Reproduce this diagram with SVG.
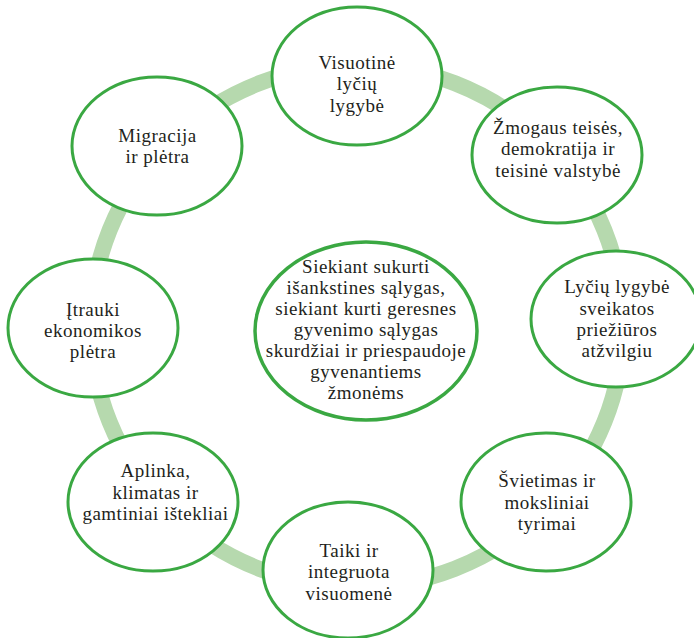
<svg xmlns="http://www.w3.org/2000/svg" width="694" height="638" viewBox="0 0 694 638">
<style>
.node ellipse{fill:#fff;stroke:#3aa842;stroke-width:3}
.center ellipse{stroke-width:3.5}
text{font-family:"Liberation Serif","Times New Roman",serif;font-size:19px;letter-spacing:0.5px;fill:#231f20;text-anchor:middle}
.ring{fill:none;stroke:#b6d9ae;stroke-width:16}
</style>
<rect width="694" height="638" fill="#fff"/>
<g id="connectors">
<ellipse class="ring" cx="357" cy="326" rx="266" ry="261"/>
</g>
<g id="n-visuotine" class="node">
<ellipse cx="357" cy="76" rx="85" ry="69"/>
<text x="357" y="68.5">Visuotinė</text>
<text x="357" y="90">lyčių</text>
<text x="357" y="111.5">lygybė</text>
</g>
<g id="n-zmogaus" class="node">
<ellipse cx="557" cy="155" rx="85" ry="68"/>
<text x="558" y="133.5">Žmogaus teisės,</text>
<text x="558" y="155">demokratija ir</text>
<text x="558" y="176.5">teisinė valstybė</text>
</g>
<g id="n-lyciu" class="node">
<ellipse cx="616" cy="319" rx="85" ry="68"/>
<text x="617" y="293">Lyčių lygybė</text>
<text x="617" y="314.5">sveikatos</text>
<text x="617" y="336">priežiūros</text>
<text x="617" y="357">atžvilgiu</text>
</g>
<g id="n-svietimas" class="node">
<ellipse cx="546" cy="502" rx="85" ry="69"/>
<text x="547" y="487">Švietimas ir</text>
<text x="547" y="508.5">moksliniai</text>
<text x="547" y="530">tyrimai</text>
</g>
<g id="n-taiki" class="node">
<ellipse cx="348" cy="570" rx="85" ry="68"/>
<text x="349" y="556.5">Taiki ir</text>
<text x="349" y="578">integruota</text>
<text x="349" y="599.5">visuomenė</text>
</g>
<g id="n-aplinka" class="node">
<ellipse cx="153" cy="502" rx="85" ry="69"/>
<text x="155.5" y="477">Aplinka,</text>
<text x="155.5" y="498.5">klimatas ir</text>
<text x="155.5" y="520">gamtiniai ištekliai</text>
</g>
<g id="n-itrauki" class="node">
<ellipse cx="93" cy="328" rx="85" ry="69"/>
<text x="93" y="316">Įtrauki</text>
<text x="93" y="337">ekonomikos</text>
<text x="93" y="358">plėtra</text>
</g>
<g id="n-migracija" class="node">
<ellipse cx="157" cy="146" rx="85" ry="69"/>
<text x="157.5" y="141.5">Migracija</text>
<text x="157.5" y="163">ir plėtra</text>
</g>
<g id="n-center" class="node center">
<ellipse cx="366" cy="331" rx="111" ry="89"/>
<text x="366" y="273">Siekiant sukurti</text>
<text x="366" y="294">išankstines sąlygas,</text>
<text x="366" y="315">siekiant kurti geresnes</text>
<text x="366" y="336">gyvenimo sąlygas</text>
<text x="366" y="357">skurdžiai ir priespaudoje</text>
<text x="366" y="378">gyvenantiems</text>
<text x="366" y="399">žmonėms</text>
</g>
</svg>
